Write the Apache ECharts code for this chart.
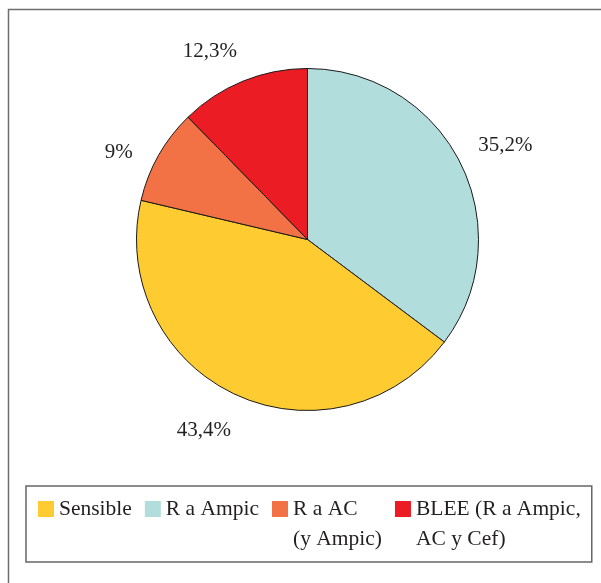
<!DOCTYPE html>
<html>
<head>
<meta charset="utf-8">
<script src="https://cdn.jsdelivr.net/npm/echarts@6/dist/echarts.min.js"></script>
<style>
html,body{margin:0;padding:0;background:#fff;}
#chart{width:601px;height:583px;}
</style>
</head>
<body>
<div id="chart"></div>
<script>
// Data (clockwise from 12 o'clock)
const categories = ['R a Ampic', 'Sensible', 'R a AC\n(y Ampic)', 'BLEE (R a Ampic,\nAC y Cef)'];
const values = [35.2, 43.4, 9, 12.3];
const colors = ['#b1dedc', '#fecb30', '#f27245', '#ec1c24'];
const legendOrder = ['Sensible', 'R a Ampic', 'R a AC\n(y Ampic)', 'BLEE (R a Ampic,\nAC y Cef)'];
// label nudges (style only)
const labelOffsets = [[2, 4], [-11, -7], [2, 21], [-15, 15]];

const textColor = '#231f20';
const font = 'Liberation Serif';

const chart = echarts.init(document.getElementById('chart'), null, {renderer: 'canvas'});

const pieData = categories.map((c, i) => ({name: c, value: values[i], itemStyle: {color: colors[i]}}));
const labelData = categories.map((c, i) => ({name: c, value: values[i], label: {offset: labelOffsets[i]}}));

chart.setOption({
  backgroundColor: '#ffffff',
  animation: false,
  graphic: [{
    type: 'rect',
    shape: {x: 8.5, y: 9.5, width: 800, height: 800},
    style: {fill: 'none', stroke: '#6e6e6e', lineWidth: 1.5},
    silent: true,
    z: -1
  }],
  legend: {
    data: legendOrder,
    left: 26,
    top: 486,
    orient: 'horizontal',
    padding: [8, 11, 8, 12],
    borderColor: '#666666',
    borderWidth: 1.5,
    itemGap: 13,
    itemWidth: 16,
    itemHeight: 46,
    icon: 'path://M0,0H16V16H0Z M0,46L0.01,46',
    itemStyle: {borderWidth: 0},
    selectedMode: false,
    formatter: function (name) { return name.indexOf('\n') >= 0 ? name : name + '\n '; },
    textStyle: {fontFamily: font, fontSize: 21.5, lineHeight: 30, color: textColor}
  },
  series: [{
    type: 'pie',
    center: [307.5, 239.5],
    radius: [0, 171],
    startAngle: 90,
    clockwise: true,
    avoidLabelOverlap: false,
    label: {show: false},
    labelLine: {show: false},
    emphasis: {disabled: true},
    itemStyle: {borderColor: '#1a1a1a', borderWidth: 1},
    data: pieData
  }, {
    type: 'pie',
    center: [307.5, 239.5],
    radius: [171, 261],
    startAngle: 90,
    clockwise: true,
    silent: true,
    legendHoverLink: false,
    avoidLabelOverlap: false,
    emphasis: {disabled: true},
    itemStyle: {color: 'rgba(0,0,0,0)', borderWidth: 0},
    labelLine: {show: false},
    label: {
      show: true,
      position: 'inside',
      fontFamily: font,
      fontSize: 21,
      color: textColor,
      formatter: function (p) { return String(p.value).replace('.', ',') + '%'; }
    },
    data: labelData
  }]
});
</script>
</body>
</html>
